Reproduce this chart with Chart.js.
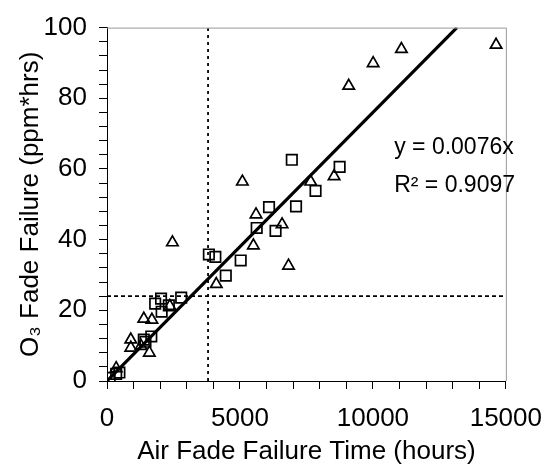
<!DOCTYPE html>
<html>
<head>
<meta charset="utf-8">
<script src="https://cdn.jsdelivr.net/npm/chart.js@4"></script>
<style>
  html, body { margin: 0; padding: 0; background: #fff; }
  #wrap { width: 556px; height: 465px; }
</style>
</head>
<body>
<div id="wrap"><canvas id="myChart"></canvas></div>
<script>
// squares series (x = air fade hours, y = O3 fade ppm*hrs)
const squareX = [100, 345, 466, 1384, 1446, 1666, 1812, 2033, 2055, 2326, 2790, 3831, 4075, 4467, 5028, 5630, 6093, 6339, 6950, 7109, 7843, 8749];
const squareY = [0.9, 2.0, 2.4, 11.7, 11.1, 12.6, 21.9, 23.3, 19.6, 21.4, 23.6, 35.8, 35.1, 29.8, 34.1, 43.3, 49.2, 42.5, 62.6, 49.4, 53.8, 60.6];

// triangles series
const triX = [345, 895, 895, 1280, 1593, 1384, 1688, 2363, 2460, 4110, 5091, 5505, 5604, 6584, 6827, 7660, 8540, 9091, 10009, 11073, 14633];
const triY = [3.6, 11.7, 9.4, 9.9, 8.0, 17.6, 17.3, 21.2, 39.2, 27.4, 56.4, 38.3, 47.1, 44.3, 32.6, 56.4, 57.9, 83.5, 89.9, 93.9, 95.1];

const slope = 0.0076;
const r2 = 0.9097;
const refX = 3800; // vertical dotted line
const refY = 24;   // horizontal dotted line

const xMin = 0, xMax = 15000, yMin = 0, yMax = 100;

const FONT = "'Liberation Sans', Arial, sans-serif";

const toPts = (xs, ys) => xs.map((x, i) => ({ x: x, y: ys[i] }));

// equation text + gray frame on top/right
const extras = {
    id: 'extras',
    afterDraw(chart) {
        const { ctx, chartArea: a, scales } = chart;
        ctx.save();
        ctx.strokeStyle = '#999';
        ctx.lineWidth = 1;
        ctx.beginPath();
        ctx.moveTo(a.left, a.top + 0.5);
        ctx.lineTo(a.right + 0.5, a.top + 0.5);
        ctx.lineTo(a.right + 0.5, a.bottom);
        ctx.stroke();

        ctx.fillStyle = '#000';
        ctx.font = '23px ' + FONT;
        ctx.textBaseline = 'middle';
        ctx.textAlign = 'left';
        const tx = scales.x.getPixelForValue(10800);
        ctx.fillText('y = ' + slope + 'x', tx, scales.y.getPixelForValue(66));
        ctx.fillText('R\u00B2 = ' + r2, tx, scales.y.getPixelForValue(55.3));
        ctx.restore();
    }
};

const ctx = document.getElementById('myChart').getContext('2d');

new Chart(ctx, {
    type: 'scatter',
    data: {
        datasets: [
            {
                label: 'fit',
                type: 'line',
                data: [{ x: 0, y: 0 }, { x: yMax / slope, y: yMax }],
                borderColor: '#000',
                borderWidth: 3.2,
                pointRadius: 0,
                showLine: true
            },
            {
                label: 'refX',
                type: 'line',
                data: [{ x: refX, y: yMin }, { x: refX, y: yMax }],
                borderColor: '#000',
                borderWidth: 1.8,
                borderDash: [3, 4],
                pointRadius: 0,
                showLine: true
            },
            {
                label: 'refY',
                type: 'line',
                data: [{ x: xMin, y: refY }, { x: xMax, y: refY }],
                borderColor: '#000',
                borderWidth: 1.8,
                borderDash: [4, 3],
                pointRadius: 0,
                showLine: true
            },
            {
                label: 'squares',
                data: toPts(squareX, squareY),
                pointStyle: 'rect',
                pointRadius: 7.4,
                backgroundColor: 'transparent',
                borderColor: '#000',
                borderWidth: 1.7
            },
            {
                label: 'triangles',
                data: toPts(triX, triY),
                pointStyle: 'triangle',
                pointRadius: 6.6,
                backgroundColor: 'transparent',
                borderColor: '#000',
                borderWidth: 1.7
            }
        ]
    },
    options: {
        responsive: true,
        maintainAspectRatio: false,
        animation: false,
        layout: { padding: { top: 20, right: 40, left: 0, bottom: 0 } },
        plugins: {
            legend: { display: false },
            tooltip: { enabled: false }
        },
        scales: {
            x: {
                type: 'linear',
                min: xMin,
                max: xMax,
                afterFit: function (scale) { scale.height = 84; },
                border: { color: '#000', width: 1 },
                grid: { drawOnChartArea: false, drawTicks: true, tickLength: 8, color: '#000' },
                ticks: {
                    stepSize: 1000,
                    autoSkip: false,
                    maxRotation: 0,
                    padding: 14,
                    color: '#000',
                    font: { family: FONT, size: 26 },
                    callback: function (v) { return v % 5000 === 0 ? String(v) : ''; }
                },
                title: {
                    display: true,
                    text: 'Air Fade Failure Time (hours)',
                    color: '#000',
                    font: { family: FONT, size: 26, lineHeight: 1 },
                    padding: { top: 0, bottom: 0 }
                }
            },
            y: {
                type: 'linear',
                min: yMin,
                max: yMax,
                afterFit: function (scale) { scale.width = 107; },
                border: { color: '#000', width: 1 },
                grid: { drawOnChartArea: false, drawTicks: true, tickLength: 8, color: '#000' },
                ticks: {
                    stepSize: 4,
                    autoSkip: false,
                    padding: 12,
                    color: '#000',
                    font: { family: FONT, size: 26 },
                    callback: function (v) { return v % 20 === 0 ? String(v) : ''; }
                },
                title: {
                    display: true,
                    text: 'O\u2083 Fade Failure (ppm*hrs)',
                    color: '#000',
                    font: { family: FONT, size: 26, lineHeight: 1 },
                    padding: { top: 18, bottom: 0 }
                }
            }
        }
    },
    plugins: [extras]
});
</script>
</body>
</html>
